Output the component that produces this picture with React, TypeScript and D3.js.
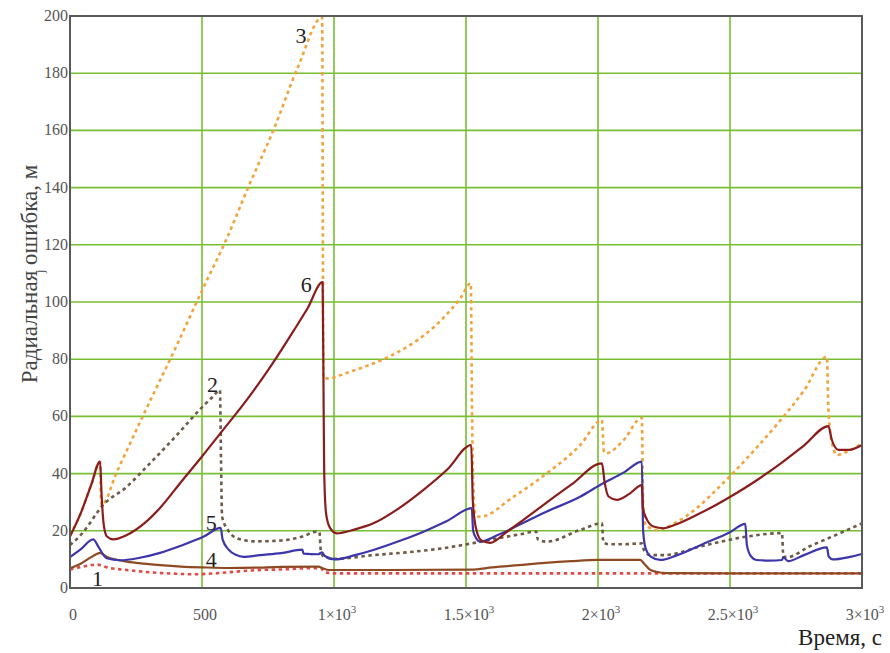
import React from "react";
import * as d3 from "d3";

// Radial positioning error vs. time, six processing variants.
// Each series: [time, s ; radial error, m]
const series1: [number, number][] = [
  [0, 6.5], [50, 7.5], [101, 8.2], [150, 7], [215, 6.3], [300, 5.5], [400, 5], [467, 4.8],
  [560, 5.2], [640, 5.8], [720, 6.3], [808, 6.5], [900, 6.9], [950, 6.9], [965, 5.5],
  [1000, 5.1], [1500, 5.1], [2000, 5.1], [2500, 5.1], [3000, 5.1],
];

const series2: [number, number][] = [
  [0, 15], [50, 19.5], [100, 26], [115, 27.9], [215, 35.4], [303, 43.6], [400, 53],
  [493, 62.5], [540, 66.8], [568, 69.2], [572, 45], [576, 25], [600, 20], [632, 17.4],
  [700, 16.3], [800, 16.6], [880, 18], [935, 19.7], [945, 19.5], [950, 13], [960, 11],
  [1004, 10.2], [1150, 11.5], [1301, 12.7], [1420, 14], [1522, 15.6], [1600, 17],
  [1700, 18.7], [1766, 19.7], [1772, 17], [1806, 16.2], [1932, 20.3], [2015, 22.6],
  [2020, 16], [2040, 15.3], [2100, 15.3], [2166, 15.6], [2175, 13], [2200, 11.5],
  [2248, 11.5], [2400, 14.8], [2558, 17.9], [2697, 19.2], [2702, 11], [2720, 10.9],
  [2800, 14.5], [2900, 18.5], [3000, 22.6],
];

const series3: [number, number][] = [
  [0, 18.5], [40, 26], [80, 36], [114, 44], [117, 32], [120, 29], [177, 40.5], [278, 60.5],
  [400, 84], [500, 104], [600, 123.5], [670, 139], [770, 160], [865, 182.5], [955, 199.5],
  [960, 73.3], [979, 73.3], [1050, 75.3], [1120, 77.5], [1200, 80.5], [1280, 84.5],
  [1350, 89], [1420, 95], [1480, 101.5], [1518, 106.5], [1523, 60], [1528, 35],
  [1536, 25.5], [1553, 24.9], [1680, 31.9], [1806, 40.1], [1933, 50], [2015, 58.7],
  [2022, 48], [2030, 47.1], [2097, 51.7], [2166, 59.5], [2171, 30], [2180, 22],
  [2223, 20.3], [2300, 23.2], [2375, 28], [2450, 34.5], [2525, 41.5], [2600, 49],
  [2690, 58.5], [2780, 69], [2867, 80.8], [2873, 62], [2888, 50], [2905, 46.5],
  [2950, 48], [3000, 50.5],
];

const series4: [number, number][] = [
  [0, 6.9], [40, 8.5], [80, 10.8], [114, 12.3], [140, 10.8], [180, 9.8], [215, 9.2],
  [280, 8.5], [341, 8], [420, 7.5], [505, 7.2], [600, 7], [700, 7.1], [800, 7.4],
  [940, 7.5], [960, 6.8], [980, 6.3], [1200, 6.3], [1520, 6.4], [1600, 7.2], [1700, 8],
  [1800, 8.8], [1900, 9.4], [2000, 9.8], [2160, 9.8], [2175, 8.5], [2195, 6.5],
  [2220, 5.7], [2260, 5.2], [2500, 5.1], [3000, 5.1],
];

const series5: [number, number][] = [
  [0, 10.8], [40, 13.5], [88, 17], [110, 14], [139, 10.4], [190, 9.7], [260, 10.5],
  [341, 12.3], [420, 14.8], [505, 17.9], [571, 21], [578, 17], [600, 13.5], [630, 11.5],
  [657, 10.9], [720, 11.5], [800, 12.2], [880, 13.4], [885, 12], [940, 11.8], [955, 12.5],
  [965, 11.2], [1004, 10], [1080, 11.5], [1149, 13.3], [1250, 16.5], [1339, 19.7],
  [1430, 23.5], [1522, 27.9], [1527, 20], [1540, 17.2], [1553, 16.2], [1620, 18.5],
  [1700, 22], [1800, 26.5], [1932, 31.9], [2008, 36], [2100, 40.5], [2166, 44.2],
  [2171, 20], [2180, 14], [2200, 11], [2236, 9.8], [2300, 11.5], [2400, 15.5],
  [2500, 19.5], [2558, 22.4], [2564, 15], [2580, 11], [2600, 9.8], [2650, 9.6],
  [2697, 9.8], [2702, 10.8], [2720, 9.4], [2780, 11.5], [2867, 14.2], [2874, 11],
  [2890, 10], [2950, 10.8], [3000, 11.9],
];

const series6: [number, number][] = [
  [0, 18], [40, 26], [80, 36], [114, 44.2], [120, 32], [128, 22], [140, 18], [164, 17],
  [215, 18.5], [280, 22.5], [341, 28], [420, 37], [500, 46], [580, 55.3], [669, 65.7],
  [760, 77.5], [846, 89.8], [900, 97.8], [957, 107], [961, 60], [963, 40], [970, 26],
  [985, 21], [1010, 19.1], [1080, 20.5], [1149, 22.6], [1240, 27.5], [1339, 34.3],
  [1430, 41.5], [1520, 50], [1526, 30], [1540, 20], [1560, 16.5], [1592, 15.8],
  [1650, 19.3], [1720, 24], [1800, 29.5], [1900, 36.2], [2015, 43.6], [2025, 37],
  [2040, 32], [2072, 30.8], [2120, 33], [2166, 36], [2170, 28], [2185, 24], [2210, 21.5],
  [2248, 20.9], [2300, 22.4], [2375, 25.6], [2450, 29.2], [2525, 33.2], [2600, 37.6],
  [2690, 43.4], [2780, 49.8], [2873, 56.6], [2885, 52], [2911, 48.3], [2950, 48.3],
  [3000, 50],
];

const xTicks = [0, 500, 1000, 1500, 2000, 2500, 3000];
const xTickMantissa = ["0", "500", "1\u00d710", "1.5\u00d710", "2\u00d710", "2.5\u00d710", "3\u00d710"];
const xTickPower = ["", "", "3", "3", "3", "3", "3"];
const yTicks = [0, 20, 40, 60, 80, 100, 120, 140, 160, 180, 200];

// Curve numbers placed next to their curves: [label, time, value]
const curveLabels: [string, number, number][] = [
  ["1", 104, 0.7],
  ["2", 540, 68.5],
  ["3", 875, 190.5],
  ["4", 535, 7.3],
  ["5", 535, 20.3],
  ["6", 895, 103.5],
];

const W = 890;
const H = 653;
const left = 70;
const right = 862;
const top = 16;
const bottom = 588;

const serif = { fontFamily: "Liberation Serif" };

export default function App() {
  const x = d3.scaleLinear().domain([0, 3000]).range([left, right]);
  const y = d3.scaleLinear().domain([0, 200]).range([bottom, top]);
  const line = d3
    .line<[number, number]>()
    .x((d) => x(d[0]))
    .y((d) => y(d[1]))
    .curve(d3.curveMonotoneX);

  const styles = [
    { data: series3, color: "#f2a43c", width: 2.6, dash: "3.5,3.5" },
    { data: series2, color: "#6e5a46", width: 2.6, dash: "3.5,3.5" },
    { data: series1, color: "#e04a46", width: 2.6, dash: "3.5,3.5" },
    { data: series4, color: "#8e4a22", width: 2.2, dash: undefined },
    { data: series5, color: "#3d35aa", width: 2.2, dash: undefined },
    { data: series6, color: "#8b1c1c", width: 2.2, dash: undefined },
  ];

  return (
    <svg
      width={W}
      height={H}
      style={{ position: "absolute", left: 0, top: 0, background: "#fff", ...serif }}
    >
      {/* grid */}
      <g stroke="#78be32" strokeWidth={1.6}>
        {xTicks.slice(1, -1).map((t) => (
          <line key={"gx" + t} x1={x(t)} x2={x(t)} y1={top} y2={bottom} />
        ))}
        {yTicks.slice(1, -1).map((v) => (
          <line key={"gy" + v} x1={left} x2={right} y1={y(v)} y2={y(v)} />
        ))}
      </g>

      {/* curves */}
      <g fill="none" strokeLinejoin="round">
        {styles.map((s, i) => (
          <path
            key={i}
            d={line(s.data) || ""}
            stroke={s.color}
            strokeWidth={s.width}
            strokeDasharray={s.dash}
          />
        ))}
      </g>

      {/* frame */}
      <rect
        x={left}
        y={top}
        width={right - left}
        height={bottom - top}
        fill="none"
        stroke="#5a5a5a"
        strokeWidth={2}
      />

      {/* y tick labels */}
      <g fontSize={16} fill="#555" textAnchor="end" style={serif}>
        {yTicks.map((v) => (
          <text key={"ty" + v} x={left - 2} y={y(v) + 5}>
            {v}
          </text>
        ))}
      </g>

      {/* x tick labels */}
      <g fontSize={16} fill="#555" textAnchor="middle" style={serif}>
        {xTicks.map((t, i) => (
          <text key={"tx" + t} x={x(t) + 3} y={620}>
            {xTickMantissa[i]}
            {xTickPower[i] ? (
              <tspan fontSize={11} dy={-7}>
                {xTickPower[i]}
              </tspan>
            ) : null}
          </text>
        ))}
      </g>

      {/* curve numbers */}
      <g fontSize={22} fill="#222" textAnchor="middle" style={serif}>
        {curveLabels.map(([s, t, v]) => (
          <text key={"c" + s} x={x(t)} y={y(v)}>
            {s}
          </text>
        ))}
      </g>

      {/* axis titles */}
      <text x={882} y={645} fontSize={23} fill="#222" textAnchor="end" style={serif}>
        Время, с
      </text>
      <text
        transform="translate(37,274) rotate(-90)"
        fontSize={23}
        fill="#444"
        textAnchor="middle"
        style={serif}
      >
        Радиальная ошибка, м
      </text>
      <text transform="translate(44,273) rotate(-90)" fontSize={12} fill="#444" style={serif}>
        j
      </text>
    </svg>
  );
}
